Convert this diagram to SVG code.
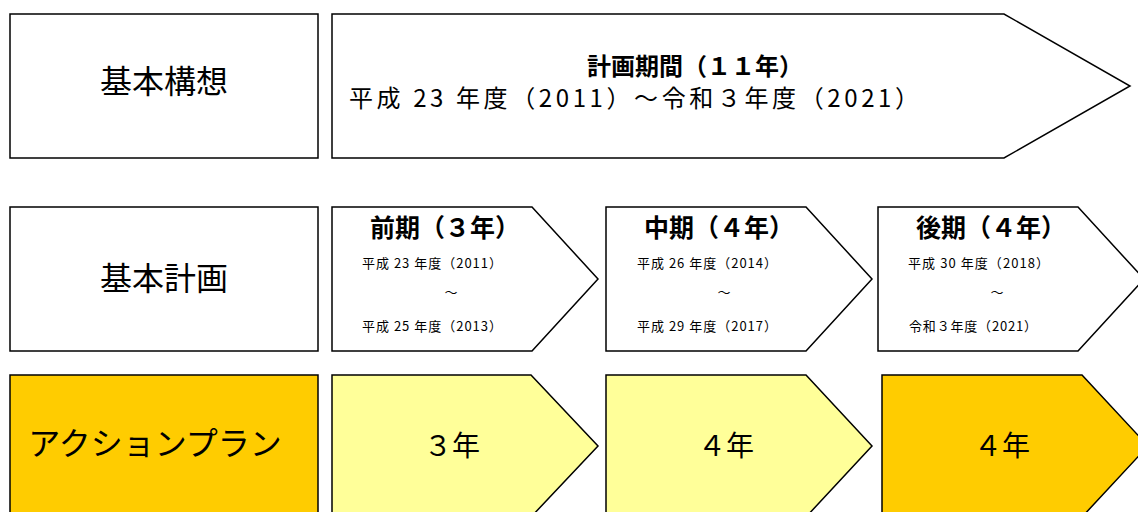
<svg xmlns="http://www.w3.org/2000/svg" width="1138" height="512" viewBox="0 0 1138 512">
<style>
.s{stroke:#000;stroke-width:1.5;fill:#fff}
.y{fill:#ffff99}
.o{fill:#ffcc00}
text{font-family:"Noto Sans CJK JP","Noto Sans",sans-serif;fill:#000}
.big{font-size:32px;text-anchor:middle}
.hd{font-size:25px;font-weight:bold;text-anchor:middle}
.dt{font-size:13px}
.t{font-size:24px;text-anchor:middle;font-weight:bold}
.l2{font-size:24px}
.yr{font-size:28px;text-anchor:middle}
</style>
<rect width="1138" height="512" fill="#fff"/>
<g id="kihon-kousou"><rect class="s" x="10" y="14" width="308" height="144"/><text class="big" x="164" y="93">基本構想</text></g>
<g id="keikaku-kikan"><polygon class="s" points="332,14 1004,14 1130,86 1004,158 332,158"/><text class="t" x="695" y="75">計画期間（１１年）</text><text class="l2" x="349" y="107" textLength="570" lengthAdjust="spacing">平成 23 年度（2011）～令和３年度（2021）</text></g>
<g id="kihon-keikaku"><rect class="s" x="10" y="207" width="308" height="144"/><text class="big" x="164" y="290">基本計画</text></g>
<g id="zenki"><polygon class="s" points="332,207 532,207 598,279 532,351 332,351"/><text class="hd" x="445" y="237">前期（３年）</text><text class="dt" x="362" y="268" textLength="140" lengthAdjust="spacing">平成 23 年度（2011）</text><text class="dt" x="451" y="297" text-anchor="middle">～</text><text class="dt" x="362" y="331" textLength="140" lengthAdjust="spacing">平成 25 年度（2013）</text></g>
<g id="chuki"><polygon class="s" points="606,207 806,207 872,279 806,351 606,351"/><text class="hd" x="719" y="237">中期（４年）</text><text class="dt" x="637" y="268" textLength="140" lengthAdjust="spacing">平成 26 年度（2014）</text><text class="dt" x="724" y="297" text-anchor="middle">～</text><text class="dt" x="637" y="331" textLength="140" lengthAdjust="spacing">平成 29 年度（2017）</text></g>
<g id="kouki"><polygon class="s" points="878,207 1078,207 1144,279 1078,351 878,351"/><text class="hd" x="991" y="237">後期（４年）</text><text class="dt" x="908" y="268" textLength="141" lengthAdjust="spacing">平成 30 年度（2018）</text><text class="dt" x="997" y="297" text-anchor="middle">～</text><text class="dt" x="909" y="331" textLength="128" lengthAdjust="spacing">令和３年度（2021）</text></g>
<g id="action-plan"><rect class="s o" x="10" y="375" width="308" height="150"/><text class="big" x="155" y="455">アクションプラン</text></g>
<g id="ap1"><polygon class="s y" points="332,375 531,375 598,446 531,517 332,517"/><text class="yr" x="452" y="456">３年</text></g>
<g id="ap2"><polygon class="s y" points="606,375 806,375 872,446 806,517 606,517"/><text class="yr" x="726" y="456">４年</text></g>
<g id="ap3"><polygon class="s o" points="882,375 1082,375 1148,446 1082,517 882,517"/><text class="yr" x="1002" y="456">４年</text></g>
<g id="connectors"/>
</svg>
